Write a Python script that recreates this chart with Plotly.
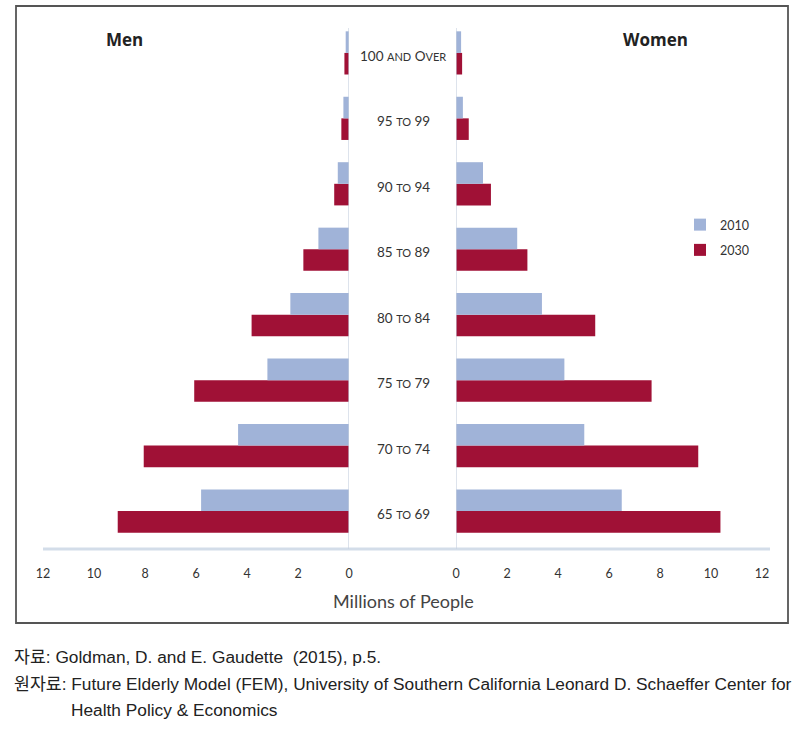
import plotly.graph_objects as go

W, H = 804, 732

categories = ["65 to 69", "70 to 74", "75 to 79", "80 to 84",
              "85 to 89", "90 to 94", "95 to 99", "100 and Over"]
SM = "<span style='font-size:11px'>{}</span>"
category_labels = ["65 " + SM.format("TO") + " 69",
                   "70 " + SM.format("TO") + " 74",
                   "75 " + SM.format("TO") + " 79",
                   "80 " + SM.format("TO") + " 84",
                   "85 " + SM.format("TO") + " 89",
                   "90 " + SM.format("TO") + " 94",
                   "95 " + SM.format("TO") + " 99",
                   "100 " + SM.format("AND") + " O" + SM.format("VER")]

men_2010 = [5.8, 4.35, 3.2, 2.3, 1.2, 0.44, 0.22, 0.13]
men_2030 = [9.07, 8.05, 6.07, 3.82, 1.79, 0.58, 0.3, 0.18]
women_2010 = [6.5, 5.03, 4.25, 3.37, 2.4, 1.06, 0.27, 0.2]
women_2030 = [10.37, 9.5, 7.67, 5.46, 2.8, 1.37, 0.5, 0.24]

x_ticks = [0, 2, 4, 6, 8, 10, 12]

C2010 = "#a0b3d8"
C2030 = "#a01136"

def px(x):
    return x / W

def py(y):
    return 1 - y / H

fig = go.Figure()

# 2030 first so that it sits below 2010 within each group
fig.add_trace(go.Bar(y=categories, x=men_2030, orientation="h", xaxis="x", yaxis="y",
                     marker=dict(color=C2030, line=dict(width=0)), name="2030",
                     legendgroup="2030", legendrank=2, showlegend=True))
fig.add_trace(go.Bar(y=categories, x=men_2010, orientation="h", xaxis="x", yaxis="y",
                     marker=dict(color=C2010, line=dict(width=0)), name="2010",
                     legendgroup="2010", legendrank=1, showlegend=True))
fig.add_trace(go.Bar(y=categories, x=women_2030, orientation="h", xaxis="x2", yaxis="y",
                     marker=dict(color=C2030, line=dict(width=0)), name="2030",
                     legendgroup="2030", showlegend=False))
fig.add_trace(go.Bar(y=categories, x=women_2010, orientation="h", xaxis="x2", yaxis="y",
                     marker=dict(color=C2010, line=dict(width=0)), name="2010",
                     legendgroup="2010", showlegend=False))

tickfont = dict(family="Lato, Open Sans, sans-serif", size=12.5, color="#333333")

annotations = []
for c, lab in zip(categories, category_labels):
    annotations.append(dict(xref="paper", yref="y", x=px(403), y=c, text=lab,
                            xanchor="center", yanchor="middle",
                            showarrow=False, yshift=-3,
                            font=dict(family="Lato, Open Sans, sans-serif", size=13.5, color="#333333")))

CAP = dict(family="Liberation Sans, Noto Sans CJK KR, sans-serif", size=17.3, color="#222222")
annotations += [
    dict(xref="paper", yref="paper", x=px(125), y=py(40), text="<b>Men</b>", showarrow=False,
         xanchor="center", yanchor="middle",
         font=dict(family="Open Sans, sans-serif", size=17, color="#222222")),
    dict(xref="paper", yref="paper", x=px(655), y=py(40), text="<b>Women</b>", showarrow=False,
         xanchor="center", yanchor="middle",
         font=dict(family="Open Sans, sans-serif", size=17, color="#222222")),
    dict(xref="paper", yref="paper", x=px(403), y=py(601), text="Millions of People", showarrow=False,
         xanchor="center", yanchor="middle",
         font=dict(family="Lato, Open Sans, sans-serif", size=18, color="#444444")),
    dict(xref="paper", yref="paper", x=px(12), y=py(657), xanchor="left", yanchor="middle",
         showarrow=False,
         text="자료: Goldman, D. and E. Gaudette  (2015), p.5.", font=CAP),
    dict(xref="paper", yref="paper", x=px(12), y=py(684), xanchor="left", yanchor="middle",
         showarrow=False,
         text="원자료: Future Elderly Model (FEM), University of Southern California Leonard D. Schaeffer Center for",
         font=CAP),
    dict(xref="paper", yref="paper", x=px(69), y=py(710), xanchor="left", yanchor="middle",
         showarrow=False,
         text="Health Policy &amp; Economics", font=CAP),
]

shapes = [
    # outer frame
    dict(type="rect", xref="paper", yref="paper", x0=px(16), x1=px(788), y0=py(623), y1=py(6),
         line=dict(color="#555555", width=1.8), fillcolor="rgba(0,0,0,0)"),
    # bottom axis line
    dict(type="line", xref="paper", yref="paper", x0=px(43), x1=px(770), y0=py(549), y1=py(549),
         line=dict(color="#d3dde9", width=3)),
    # centre vertical lines
    dict(type="line", xref="x", yref="paper", x0=0, x1=0, y0=py(549), y1=py(28),
         line=dict(color="#c6d1df", width=1.2)),
    dict(type="line", xref="x2", yref="paper", x0=0, x1=0, y0=py(549), y1=py(28),
         line=dict(color="#c6d1df", width=1.2)),
]

fig.update_layout(
    width=W, height=H,
    margin=dict(l=0, r=0, t=0, b=0, autoexpand=False),
    paper_bgcolor="white", plot_bgcolor="white",
    barmode="group", bargap=0.34, bargroupgap=0,
    xaxis=dict(domain=[px(43), px(349)], range=[12, 0], tickvals=x_ticks,
               showgrid=False, zeroline=False, showline=False, ticks="",
               ticklabelstandoff=15, tickfont=tickfont, anchor="y", fixedrange=True),
    xaxis2=dict(domain=[px(456), px(762)], range=[0, 12], tickvals=x_ticks,
                showgrid=False, zeroline=False, showline=False, ticks="",
                ticklabelstandoff=15, tickfont=tickfont, anchor="y", fixedrange=True),
    yaxis=dict(domain=[py(549), py(30)], type="category", categoryorder="array",
               categoryarray=categories, range=[-0.58, 7.35], visible=False, fixedrange=True),
    legend=dict(x=px(680), y=py(210), xanchor="left", yanchor="top",
                traceorder="grouped", tracegroupgap=6,
                font=dict(family="Lato, Open Sans, sans-serif", size=12.5, color="#333333"),
                bgcolor="rgba(0,0,0,0)"),
    annotations=annotations,
    shapes=shapes,
)

fig.write_html("out.html", config={"displayModeBar": False},
               post_script="document.body.style.margin='0';document.body.style.padding='0';")
